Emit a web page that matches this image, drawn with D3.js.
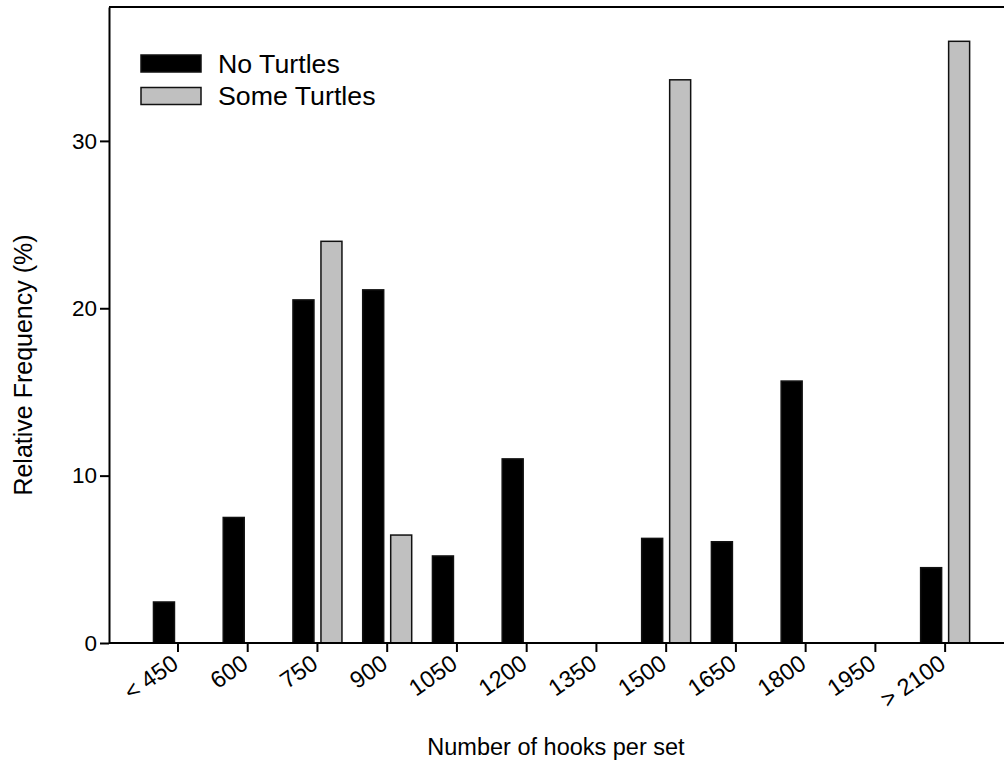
<!DOCTYPE html>
<html>
<head>
<meta charset="utf-8">
<script src="https://cdn.jsdelivr.net/npm/d3@7"></script>
<style>
  html, body { margin: 0; padding: 0; background: #fff; }
  svg { display: block; font-family: "Liberation Sans", Arial, sans-serif; }
</style>
</head>
<body>
<svg id="chart" width="1004" height="770"></svg>
<script>
// Hook-count classes along the x axis
const categories = ["< 450", "600", "750", "900", "1050", "1200", "1350", "1500", "1650", "1800", "1950", "> 2100"];
// Relative frequency (%) of sets per hook class
const noTurtles   = [2.45, 7.5, 20.5, 21.1, 5.2, 11.0, 0, 6.25, 6.05, 15.65, 0, 4.5];
const someTurtles = [0, 0, 24.0, 6.45, 0, 0, 0, 33.65, 0, 0, 0, 35.95];
const seriesNames = ["No Turtles", "Some Turtles"];
const yTicks = [0, 10, 20, 30];

const svg = d3.select("#chart");
const frame = { left: 109, top: 7, right: 1012, bottom: 643 };
const FONT = "'Liberation Sans', Arial, sans-serif";

const x = d3.scaleBand()
  .domain(categories)
  .range([143.1, 980.0])
  .paddingInner(0).paddingOuter(0);

const xSub = d3.scaleBand()
  .domain(seriesNames)
  .range([-24.5, 24.5])
  .paddingInner(0.25).paddingOuter(0);

const y = d3.scaleLinear().domain([0, 38]).range([frame.bottom, frame.top]);

const fills = { "No Turtles": "#000000", "Some Turtles": "#c0c0c0" };

const rows = categories.map((c, i) => ({ cat: c, values: [
  { key: "No Turtles", v: noTurtles[i] },
  { key: "Some Turtles", v: someTurtles[i] }
]}));

// bars (zero-height classes are not drawn)
const groups = svg.append("g").selectAll("g")
  .data(rows).join("g")
  .attr("transform", d => `translate(${x(d.cat) + x.bandwidth() / 2},0)`);

groups.selectAll("rect")
  .data(d => d.values.filter(e => e.v > 0))
  .join("rect")
  .attr("x", d => xSub(d.key))
  .attr("width", xSub.bandwidth())
  .attr("y", d => y(d.v))
  .attr("height", d => y(0) - y(d.v))
  .attr("fill", d => fills[d.key])
  .attr("stroke", "#111")
  .attr("stroke-width", 1.5);

// frame: top border plus right edge
svg.append("line")
  .attr("x1", frame.left).attr("x2", frame.right)
  .attr("y1", frame.top).attr("y2", frame.top)
  .attr("stroke", "#000").attr("stroke-width", 2);
svg.append("line")
  .attr("x1", frame.right).attr("x2", frame.right)
  .attr("y1", frame.top).attr("y2", frame.bottom)
  .attr("stroke", "#000").attr("stroke-width", 2);

// y axis
const yAxis = svg.append("g")
  .attr("transform", `translate(${frame.left},0)`)
  .call(d3.axisLeft(y).tickValues(yTicks).tickSize(9).tickSizeOuter(0).tickPadding(3));
yAxis.select(".domain").attr("stroke-width", 2);
yAxis.selectAll(".tick line").attr("stroke-width", 2);
yAxis.selectAll(".tick text").attr("font-size", 22.5).attr("fill", "#000")
  .attr("font-family", FONT);

// x axis with slanted labels
const xAxis = svg.append("g")
  .attr("transform", `translate(0,${frame.bottom})`)
  .call(d3.axisBottom(x).tickSize(9).tickSizeOuter(0));
xAxis.select(".domain").attr("d", `M${frame.left},0H${frame.right}`).attr("stroke-width", 2);
xAxis.selectAll(".tick line").attr("stroke-width", 2);
xAxis.selectAll(".tick text")
  .attr("font-size", 23.5).attr("fill", "#000")
  .attr("font-family", FONT)
  .attr("text-anchor", "end")
  .attr("x", 0).attr("y", 0).attr("dy", 0)
  .attr("transform", "translate(2,24) rotate(-35)");

// axis titles
svg.append("text")
  .attr("x", 556).attr("y", 755)
  .attr("text-anchor", "middle")
  .attr("font-size", 23.5)
  .text("Number of hooks per set");

svg.append("text")
  .attr("transform", "translate(32,365) rotate(-90)")
  .attr("text-anchor", "middle")
  .attr("font-size", 25)
  .text("Relative Frequency (%)");

// legend
const legend = svg.append("g");
seriesNames.forEach((name, i) => {
  const ly = 55 + i * 32.5;
  legend.append("rect")
    .attr("x", 141).attr("y", ly)
    .attr("width", 60).attr("height", 17)
    .attr("fill", fills[name]).attr("stroke", "#111").attr("stroke-width", 1.5);
  legend.append("text")
    .attr("transform", `translate(218,${ly + 17.5}) scale(1.07,1)`)
    .attr("font-size", 25)
    .text(name);
});
</script>
</body>
</html>
